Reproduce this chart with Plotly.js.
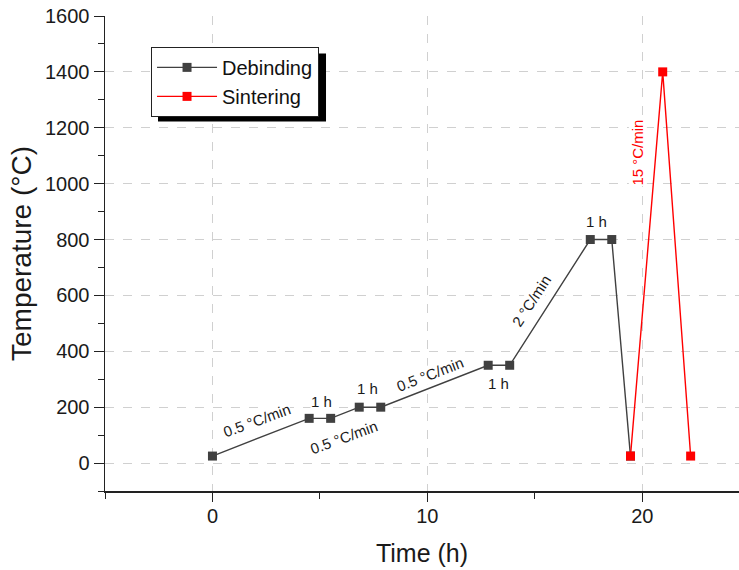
<!DOCTYPE html>
<html>
<head>
<meta charset="utf-8">
<script src="https://cdn.plot.ly/plotly-3.0.1.min.js"></script>
<style>html,body{margin:0;padding:0;background:#fff;}#chart{width:739px;height:570px;}</style>
</head>
<body>
<div id="chart"></div>
<script>
// Debinding schedule (time in h, temperature in °C)
const debindTime = [0, 4.5, 5.5, 6.83, 7.83, 12.83, 13.83, 17.58, 18.58, 19.45];
const debindTemp = [25, 160, 160, 200, 200, 350, 350, 800, 800, 25];
// Sintering schedule
const sinterTime = [19.45, 20.95, 22.25];
const sinterTemp = [25, 1400, 25];

// Segment labels
const labelText = ["0.5 °C/min", "1 h", "0.5 °C/min", "1 h", "0.5 °C/min", "1 h", "2 °C/min", "1 h", "15 °C/min"];
const labelX = [2.05, 5.07, 6.1, 7.2, 10.1, 13.3, 14.84, 17.86, 19.8];
const labelY = [151, 219, 90, 266, 316, 284, 583, 866, 1111];
const labelAngle = [-20, 0, -20, 0, -21, 0, -57, 0, -90];
const labelColor = ["#1a1a1a", "#1a1a1a", "#1a1a1a", "#1a1a1a", "#1a1a1a", "#1a1a1a", "#1a1a1a", "#1a1a1a", "#ff0000"];

const traces = [
  {
    x: debindTime, y: debindTemp, name: "Debinding", type: "scatter", mode: "lines+markers",
    line: {color: "#404040", width: 1.4},
    marker: {symbol: "square", size: 9, color: "#404040"}
  },
  {
    x: sinterTime, y: sinterTemp, name: "Sintering", type: "scatter", mode: "lines+markers",
    line: {color: "#ff0000", width: 1.4},
    marker: {symbol: "square", size: 9, color: "#ff0000"}
  }
];

const annotations = labelText.map((t, i) => ({
  x: labelX[i], y: labelY[i], xref: "x", yref: "y", text: t, showarrow: false,
  textangle: labelAngle[i], bgcolor: "white", borderpad: 0,
  font: {family: "Liberation Sans, Arial, sans-serif", size: 15, color: labelColor[i]}
}));

const layout = {
  width: 739, height: 570,
  margin: {l: 105, r: 0, t: 16, b: 79},
  paper_bgcolor: "white", plot_bgcolor: "white",
  font: {family: "Liberation Sans, Arial, sans-serif", color: "#1a1a1a"},
  showlegend: true,
  legend: {
    x: 0.0726, y: 0.935, xanchor: "left", yanchor: "top",
    bgcolor: "white", bordercolor: "#222", borderwidth: 1,
    font: {size: 20, color: "#111"}, tracegroupgap: 0,
    itemwidth: 60
  },
  xaxis: {
    range: [-5, 24.5], tick0: 0, dtick: 10,
    showline: true, linecolor: "#222", linewidth: 1.5,
    ticks: "outside", ticklen: 9, tickcolor: "#222", tickwidth: 1,
    tickfont: {size: 20, color: "#1a1a1a"}, ticklabelstandoff: -3,
    showgrid: true, gridcolor: "#d0d0d0", griddash: "dash", gridwidth: 1,
    zeroline: false,
    minor: {dtick: 5, tick0: 0, ticks: "outside", ticklen: 6, tickcolor: "#222", showgrid: false},
    title: {text: "Time (h)", font: {size: 25, color: "#1a1a1a"}, standoff: 19}
  },
  yaxis: {
    range: [-100, 1600], tick0: 0, dtick: 200,
    showline: true, linecolor: "#222", linewidth: 1.5,
    ticks: "outside", ticklen: 10, tickcolor: "#222", tickwidth: 1,
    tickfont: {size: 20, color: "#1a1a1a"}, ticklabelstandoff: 0,
    showgrid: true, gridcolor: "#d0d0d0", griddash: "dash", gridwidth: 1,
    zeroline: false,
    minor: {dtick: 100, tick0: 0, ticks: "outside", ticklen: 6, tickcolor: "#222", showgrid: false},
    title: {text: "Temperature (°C)", font: {size: 28, color: "#1a1a1a"}, standoff: 5}
  },
  annotations: annotations,
  shapes: [
    {type: "rect", xref: "paper", yref: "paper", x0: 0.0836, x1: 0.3486, y0: 0.778, y1: 0.921,
     fillcolor: "black", line: {width: 0}, layer: "above"}
  ]
};

Plotly.newPlot("chart", traces, layout, {displayModeBar: false, staticPlot: true});
</script>
</body>
</html>
